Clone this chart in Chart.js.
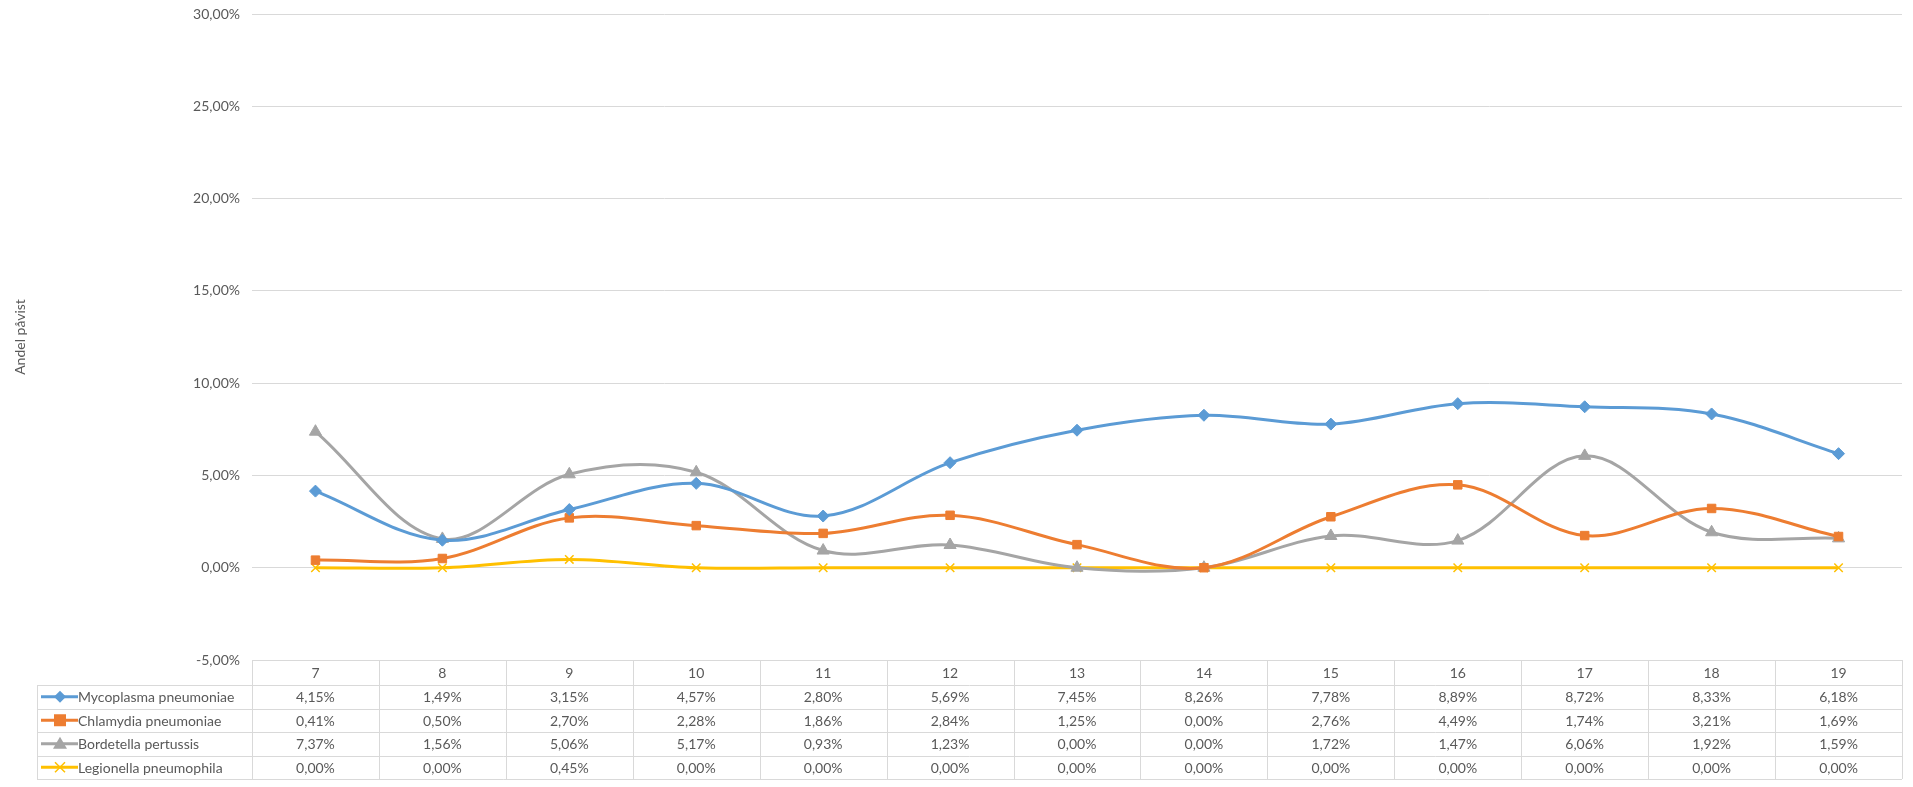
<!DOCTYPE html>
<html>
<head>
<meta charset="utf-8">
<script src="https://cdn.jsdelivr.net/npm/chart.js@4/dist/chart.umd.min.js"></script>
<style>
  html,body{margin:0;padding:0;background:#fff;}
  #wrap{width:1913px;height:787px;position:relative;}
</style>
</head>
<body>
<div id="wrap"><canvas id="chart"></canvas></div>
<script>
// uker (kategorier) og andel påvist per agens, i prosent
const uker = ['7','8','9','10','11','12','13','14','15','16','17','18','19'];
const mycoplasma = [4.15, 1.49, 3.15, 4.57, 2.80, 5.69, 7.45, 8.26, 7.78, 8.89, 8.72, 8.33, 6.18];
const chlamydia  = [0.41, 0.50, 2.70, 2.28, 1.86, 2.84, 1.25, 0.00, 2.76, 4.49, 1.74, 3.21, 1.69];
const bordetella = [7.37, 1.56, 5.06, 5.17, 0.93, 1.23, 0.00, 0.00, 1.72, 1.47, 6.06, 1.92, 1.59];
const legionella = [0.00, 0.00, 0.45, 0.00, 0.00, 0.00, 0.00, 0.00, 0.00, 0.00, 0.00, 0.00, 0.00];
const serieNavn = ['Mycoplasma pneumoniae','Chlamydia pneumoniae','Bordetella pertussis','Legionella pneumophila'];
const yMin = -5, yMax = 30, yStep = 5;

const FONT = 'Lato, "Liberation Sans", sans-serif';
const TXT = '#595959';
const GRID = '#D9D9D9';

function pst(v){ return v.toFixed(2).replace('.', ',') + '%'; }

// tegner markør (brukes i datatabellen)
function tegnMarkor(ctx, stil, x, y, farge){
  ctx.save();
  ctx.fillStyle = farge; ctx.strokeStyle = farge;
  ctx.beginPath();
  if(stil==='rectRot'){
    ctx.moveTo(x, y-6); ctx.lineTo(x+6, y); ctx.lineTo(x, y+6); ctx.lineTo(x-6, y); ctx.closePath(); ctx.fill();
  } else if(stil==='rect'){
    ctx.rect(x-6, y-6, 12, 12); ctx.fill();
  } else if(stil==='triangle'){
    ctx.moveTo(x, y-7); ctx.lineTo(x+7, y+5); ctx.lineTo(x-7, y+5); ctx.closePath(); ctx.fill();
  } else {
    ctx.lineWidth = 1.5;
    ctx.moveTo(x-5, y-5); ctx.lineTo(x+5, y+5); ctx.moveTo(x+5, y-5); ctx.lineTo(x-5, y+5); ctx.stroke();
  }
  ctx.restore();
}

const datatabell = {
  id: 'datatabell',
  afterDraw(chart){
    const ctx = chart.ctx;
    const xs = chart.scales.x, ys = chart.scales.y;
    const n = uker.length;
    const colW = (xs.right - xs.left) / n;
    const top = ys.getPixelForValue(yMin);
    const hodeH = 25, radH = 23.5;
    const venstre = 37;
    const bunn = top + hodeH + radH * chart.data.datasets.length;

    ctx.save();
    ctx.strokeStyle = GRID; ctx.lineWidth = 1;
    ctx.beginPath();
    // horisontale linjer
    ctx.moveTo(xs.left, top + 0.5); ctx.lineTo(xs.right, top + 0.5);
    for(let r = 0; r <= chart.data.datasets.length; r++){
      const yy = Math.round(top + hodeH + r * radH) + 0.5;
      ctx.moveTo(venstre, yy); ctx.lineTo(xs.right, yy);
    }
    // vertikale linjer
    for(let c = 0; c <= n; c++){
      const xx = Math.round(xs.left + c * colW) + 0.5;
      ctx.moveTo(xx, top); ctx.lineTo(xx, bunn);
    }
    ctx.moveTo(venstre + 0.5, top + hodeH); ctx.lineTo(venstre + 0.5, bunn);
    ctx.stroke();

    ctx.fillStyle = TXT;
    ctx.font = '14px ' + FONT;
    ctx.textBaseline = 'middle';
    ctx.textAlign = 'center';
    uker.forEach((u, i) => {
      ctx.fillText(u, xs.getPixelForValue(i), top + hodeH / 2 + 1);
    });
    chart.data.datasets.forEach((ds, r) => {
      const cy = top + hodeH + r * radH + radH / 2 + 1;
      ctx.textAlign = 'center';
      ctx.fillStyle = TXT;
      ds.data.forEach((v, i) => ctx.fillText(pst(v), xs.getPixelForValue(i), cy));
      // forklaring
      ctx.strokeStyle = ds.borderColor; ctx.lineWidth = 3;
      ctx.beginPath(); ctx.moveTo(41, cy - 1); ctx.lineTo(78, cy - 1); ctx.stroke();
      tegnMarkor(ctx, ds.pointStyle, 60, cy - 1, ds.borderColor);
      ctx.fillStyle = TXT; ctx.textAlign = 'left';
      ctx.fillText(ds.label, 78, cy);
    });
    ctx.restore();
  }
};

function serie(navn, data, farge, stil, radius){
  return {
    label: navn, data, borderColor: farge, backgroundColor: farge,
    borderWidth: 3, tension: 0.35, pointStyle: stil, pointRadius: radius,
    pointBorderWidth: stil === 'crossRot' ? 1.5 : 1, pointHoverRadius: radius
  };
}

new Chart(document.getElementById('chart'), {
  type: 'line',
  data: {
    labels: uker,
    datasets: [
      serie(serieNavn[0], mycoplasma, '#5B9BD5', 'rectRot', 6),
      serie(serieNavn[1], chlamydia, '#ED7D31', 'rect', 6),
      serie(serieNavn[2], bordetella, '#A5A5A5', 'triangle', 7),
      serie(serieNavn[3], legionella, '#FFC000', 'crossRot', 6)
    ]
  },
  options: {
    responsive: true, maintainAspectRatio: false, animation: false,
    layout: { padding: { top: 14, right: 11, bottom: 127, left: 0 } },
    plugins: { legend: { display: false }, tooltip: { enabled: false } },
    scales: {
      x: { type: 'category', display: false, offset: true },
      y: {
        min: yMin, max: yMax,
        ticks: { stepSize: yStep, padding: 12, color: TXT, font: { family: FONT, size: 14 }, callback: v => pst(v) },
        grid: { color: GRID, drawTicks: false, tickLength: 0 },
        border: { display: false },
        title: { display: true, text: 'Andel påvist', color: TXT, font: { family: FONT, size: 14 }, padding: { top: 12, bottom: 0 } },
        afterFit(scale){ scale.width = 252; scale.paddingTop = 0; scale.paddingBottom = 0; }
      }
    }
  },
  plugins: [datatabell]
});
</script>
</body>
</html>
